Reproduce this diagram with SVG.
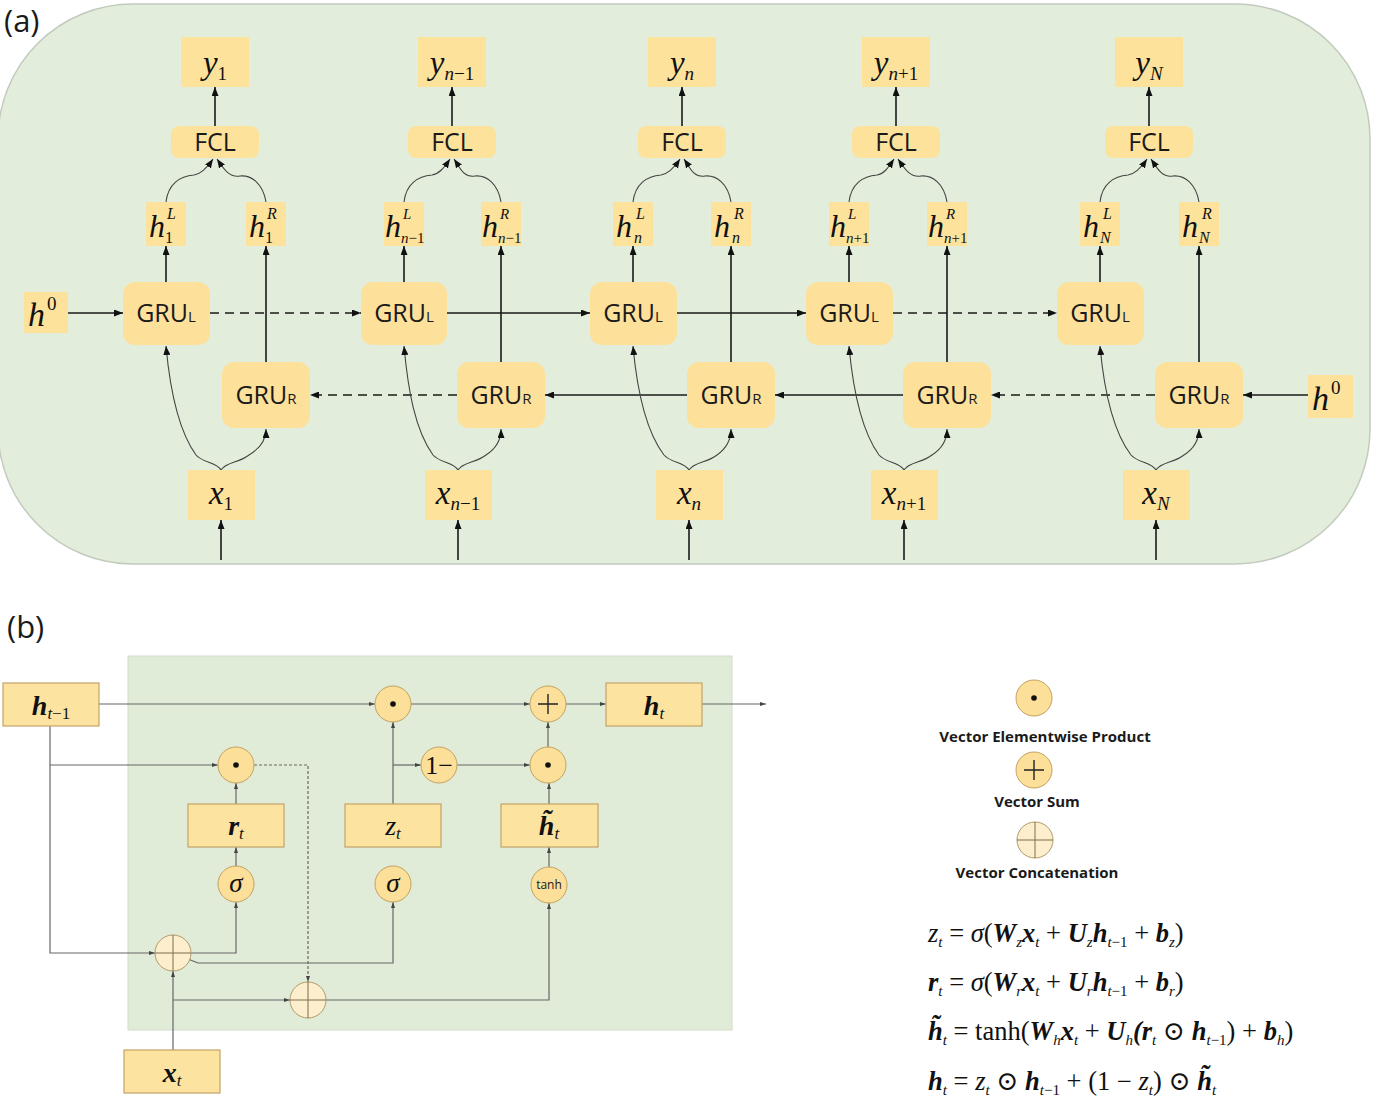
<svg xmlns="http://www.w3.org/2000/svg" width="1385" height="1098" viewBox="0 0 1385 1098">
  <style>
    .bx { fill: #fde29c; }
    .gru { fill: #fde09a; }
    .bb { fill: #fce3a0; stroke: #c3a468; stroke-width: 1.2; }
    .circ { fill: #fcdf98; stroke: #c2a261; stroke-width: 1; }
    .cat { fill: #fdefcd; stroke: #b09a6a; stroke-width: 1; }
    .catx { stroke: #7d6e4d; stroke-width: 1; }
    .ser { font-family: "Liberation Serif", "DejaVu Serif", serif; fill: #111; }
    .it { font-style: italic; }
    .bi { font-style: italic; font-weight: bold; }
    .up { font-style: normal; font-weight: normal; }
    .sans { font-family: "Open Sans", "Liberation Sans", sans-serif; fill: #1a1a1a; }
    .gtx { font-size: 25px; text-anchor: middle; }
    .lg { font-size: 15px; font-weight: bold; text-anchor: middle; }
    .ln { stroke: #1a1a1a; stroke-width: 1.6; fill: none; }
    .dash { stroke-dasharray: 9 6; }
    .cv { stroke: #444; stroke-width: 1.1; fill: none; }
    .wl { stroke: #666; stroke-width: 1.2; fill: none; }
    .eq { font-size: 26.5px; }
    .lb { font-size: 33px; text-anchor: middle; }
  </style>
  <defs>
    <marker id="ah" viewBox="0 0 9 7" refX="9" refY="3.5" markerWidth="9" markerHeight="7" markerUnits="userSpaceOnUse" orient="auto">
      <path d="M0,0 L9,3.5 L0,7 z" fill="#111"/>
    </marker>
    <marker id="as" viewBox="0 0 6 4" refX="6" refY="2" markerWidth="6" markerHeight="4" markerUnits="userSpaceOnUse" orient="auto">
      <path d="M0,0 L6,2 L0,4 z" fill="#444"/>
    </marker>
  </defs>

  <!-- panel (a): bidirectional GRU -->
  <text x="4" y="32" class="sans" font-size="31">(a)</text>
  <rect x="-2" y="4" width="1372" height="560" rx="135" ry="135" fill="#e2eedb" stroke="#c2cabd" stroke-width="1.5"/>

  <g id="connectors-a">
    <!-- forward chain -->
    <path class="ln" d="M68,313 H123" marker-end="url(#ah)"/>
    <path class="ln dash" d="M210,313 H361" marker-end="url(#ah)"/>
    <path class="ln" d="M447,313 H590" marker-end="url(#ah)"/>
    <path class="ln" d="M677,313 H806" marker-end="url(#ah)"/>
    <path class="ln dash" d="M893,313 H1057" marker-end="url(#ah)"/>
    <!-- backward chain -->
    <path class="ln" d="M1308,395 H1243" marker-end="url(#ah)"/>
    <path class="ln dash" d="M1155,395 H991" marker-end="url(#ah)"/>
    <path class="ln" d="M903,395 H775" marker-end="url(#ah)"/>
    <path class="ln" d="M687,395 H545" marker-end="url(#ah)"/>
    <path class="ln dash" d="M457,395 H310" marker-end="url(#ah)"/>

    <!-- column 1 -->
    <path class="ln" d="M221,560 V520" marker-end="url(#ah)"/>
    <path class="ln" d="M166,282 V246" marker-end="url(#ah)"/>
    <path class="ln" d="M266,362 V246" marker-end="url(#ah)"/>
    <path class="ln" d="M215,126 V87" marker-end="url(#ah)"/>
    <path class="cv" d="M221,470 C216,462 203,463 196,455 C178,430 170,390 166,346" marker-end="url(#ah)"/>
    <path class="cv" d="M221,470 C226,462 239,463 249,455 C261,448 266,440 266,429" marker-end="url(#ah)"/>
    <path class="cv" d="M166,202 C168,184 180,176 194,175 C201,174 207,168 213,159" marker-end="url(#ah)"/>
    <path class="cv" d="M266,202 C263,184 252,175 240,176 C229,178 223,168 217,159" marker-end="url(#ah)"/>

    <!-- column 2 -->
    <path class="ln" d="M458,560 V520" marker-end="url(#ah)"/>
    <path class="ln" d="M404,282 V246" marker-end="url(#ah)"/>
    <path class="ln" d="M501,362 V246" marker-end="url(#ah)"/>
    <path class="ln" d="M452,126 V87" marker-end="url(#ah)"/>
    <path class="cv" d="M458,470 C453,462 440,463 433,455 C415,430 408,390 404,346" marker-end="url(#ah)"/>
    <path class="cv" d="M458,470 C463,462 476,463 486,455 C497,448 501,440 501,429" marker-end="url(#ah)"/>
    <path class="cv" d="M404,202 C406,184 418,176 432,175 C439,174 444,168 450,159" marker-end="url(#ah)"/>
    <path class="cv" d="M501,202 C498,184 487,175 475,176 C464,178 460,168 454,159" marker-end="url(#ah)"/>

    <!-- column 3 -->
    <path class="ln" d="M689,560 V520" marker-end="url(#ah)"/>
    <path class="ln" d="M633,282 V246" marker-end="url(#ah)"/>
    <path class="ln" d="M731,362 V246" marker-end="url(#ah)"/>
    <path class="ln" d="M682,126 V87" marker-end="url(#ah)"/>
    <path class="cv" d="M689,470 C684,462 671,463 664,455 C645,430 637,390 633,346" marker-end="url(#ah)"/>
    <path class="cv" d="M689,470 C694,462 707,463 717,455 C727,448 731,440 731,429" marker-end="url(#ah)"/>
    <path class="cv" d="M633,202 C635,184 647,176 661,175 C668,174 674,168 680,159" marker-end="url(#ah)"/>
    <path class="cv" d="M731,202 C728,184 717,175 705,176 C694,178 690,168 684,159" marker-end="url(#ah)"/>

    <!-- column 4 -->
    <path class="ln" d="M904,560 V520" marker-end="url(#ah)"/>
    <path class="ln" d="M849,282 V246" marker-end="url(#ah)"/>
    <path class="ln" d="M947,362 V246" marker-end="url(#ah)"/>
    <path class="ln" d="M896,126 V87" marker-end="url(#ah)"/>
    <path class="cv" d="M904,470 C899,462 886,463 879,455 C861,430 853,390 849,346" marker-end="url(#ah)"/>
    <path class="cv" d="M904,470 C909,462 922,463 932,455 C943,448 947,440 947,429" marker-end="url(#ah)"/>
    <path class="cv" d="M849,202 C851,184 863,176 877,175 C884,174 888,168 894,159" marker-end="url(#ah)"/>
    <path class="cv" d="M947,202 C944,184 933,175 921,176 C910,178 904,168 898,159" marker-end="url(#ah)"/>

    <!-- column N -->
    <path class="ln" d="M1156,560 V520" marker-end="url(#ah)"/>
    <path class="ln" d="M1100,282 V246" marker-end="url(#ah)"/>
    <path class="ln" d="M1199,362 V246" marker-end="url(#ah)"/>
    <path class="ln" d="M1149,126 V87" marker-end="url(#ah)"/>
    <path class="cv" d="M1156,470 C1151,462 1138,463 1131,455 C1112,430 1104,390 1100,346" marker-end="url(#ah)"/>
    <path class="cv" d="M1156,470 C1161,462 1174,463 1184,455 C1195,448 1199,440 1199,429" marker-end="url(#ah)"/>
    <path class="cv" d="M1100,202 C1102,184 1114,176 1128,175 C1135,174 1141,168 1147,159" marker-end="url(#ah)"/>
    <path class="cv" d="M1199,202 C1196,184 1185,175 1173,176 C1162,178 1157,168 1151,159" marker-end="url(#ah)"/>
  </g>

  <!-- initial states -->
  <g id="h0-left">
    <rect class="bx" x="24" y="292" width="44" height="41"/>
    <text class="ser it" x="28" y="326" font-size="34">h</text>
    <text class="ser" x="47" y="310" font-size="19">0</text>
  </g>
  <g id="h0-right">
    <rect class="bx" x="1308" y="375" width="45" height="43"/>
    <text class="ser it" x="1312" y="410" font-size="34">h</text>
    <text class="ser" x="1331" y="394" font-size="19">0</text>
  </g>

  <!-- column 1 nodes -->
  <g id="y1"><rect class="bx" x="181" y="37" width="68" height="50"/>
    <text class="ser it lb" x="215" y="74">y<tspan class="up" font-size="19" dy="6">1</tspan></text></g>
  <g id="fcl1"><rect class="bx" x="171" y="126" width="88" height="32" rx="8"/>
    <text class="sans gtx" x="215" y="151">FCL</text></g>
  <g id="hL1"><rect class="bx" x="146" y="202" width="40" height="44"/>
    <text class="ser it" x="149" y="237" font-size="32">h</text>
    <text class="ser it" x="167" y="219" font-size="16">L</text>
    <text class="ser" x="165" y="243" font-size="16">1</text></g>
  <g id="hR1"><rect class="bx" x="246" y="202" width="40" height="44"/>
    <text class="ser it" x="249" y="237" font-size="32">h</text>
    <text class="ser it" x="267" y="219" font-size="16">R</text>
    <text class="ser" x="265" y="243" font-size="16">1</text></g>
  <g id="gruL1"><rect class="gru" x="123" y="282" width="87" height="63" rx="12"/>
    <text class="sans gtx" x="166" y="322">GRU<tspan font-size="15">L</tspan></text></g>
  <g id="gruR1"><rect class="gru" x="222" y="362" width="88" height="66" rx="12"/>
    <text class="sans gtx" x="266" y="404">GRU<tspan font-size="15">R</tspan></text></g>
  <g id="x1"><rect class="bx" x="188" y="470" width="67" height="50"/>
    <text class="ser it lb" x="221" y="504">x<tspan class="up" font-size="19" dy="6">1</tspan></text></g>

  <!-- column n-1 nodes -->
  <g id="yn-1"><rect class="bx" x="418" y="37" width="68" height="50"/>
    <text class="ser it lb" x="452" y="74">y<tspan font-size="19" dy="6">n</tspan><tspan class="up" font-size="19">−1</tspan></text></g>
  <g id="fcl2"><rect class="bx" x="408" y="126" width="88" height="32" rx="8"/>
    <text class="sans gtx" x="452" y="151">FCL</text></g>
  <g id="hLn-1"><rect class="bx" x="384" y="202" width="40" height="44"/>
    <text class="ser it" x="385" y="237" font-size="32">h</text>
    <text class="ser it" x="403" y="219" font-size="15">L</text>
    <text class="ser it" x="401" y="243" font-size="15">n<tspan class="up">−1</tspan></text></g>
  <g id="hRn-1"><rect class="bx" x="481" y="202" width="40" height="44"/>
    <text class="ser it" x="482" y="237" font-size="32">h</text>
    <text class="ser it" x="500" y="219" font-size="15">R</text>
    <text class="ser it" x="498" y="243" font-size="15">n<tspan class="up">−1</tspan></text></g>
  <g id="gruL2"><rect class="gru" x="361" y="282" width="86" height="63" rx="12"/>
    <text class="sans gtx" x="404" y="322">GRU<tspan font-size="15">L</tspan></text></g>
  <g id="gruR2"><rect class="gru" x="457" y="362" width="88" height="66" rx="12"/>
    <text class="sans gtx" x="501" y="404">GRU<tspan font-size="15">R</tspan></text></g>
  <g id="xn-1"><rect class="bx" x="425" y="470" width="67" height="50"/>
    <text class="ser it lb" x="458" y="504">x<tspan font-size="19" dy="6">n</tspan><tspan class="up" font-size="19">−1</tspan></text></g>

  <!-- column n nodes -->
  <g id="yn"><rect class="bx" x="648" y="37" width="68" height="50"/>
    <text class="ser it lb" x="682" y="74">y<tspan font-size="19" dy="6">n</tspan></text></g>
  <g id="fcl3"><rect class="bx" x="638" y="126" width="88" height="32" rx="8"/>
    <text class="sans gtx" x="682" y="151">FCL</text></g>
  <g id="hLn"><rect class="bx" x="613" y="202" width="40" height="44"/>
    <text class="ser it" x="616" y="237" font-size="32">h</text>
    <text class="ser it" x="636" y="219" font-size="16">L</text>
    <text class="ser it" x="634" y="243" font-size="16">n</text></g>
  <g id="hRn"><rect class="bx" x="711" y="202" width="40" height="44"/>
    <text class="ser it" x="714" y="237" font-size="32">h</text>
    <text class="ser it" x="734" y="219" font-size="16">R</text>
    <text class="ser it" x="732" y="243" font-size="16">n</text></g>
  <g id="gruL3"><rect class="gru" x="590" y="282" width="87" height="63" rx="12"/>
    <text class="sans gtx" x="633" y="322">GRU<tspan font-size="15">L</tspan></text></g>
  <g id="gruR3"><rect class="gru" x="687" y="362" width="88" height="66" rx="12"/>
    <text class="sans gtx" x="731" y="404">GRU<tspan font-size="15">R</tspan></text></g>
  <g id="xn"><rect class="bx" x="656" y="470" width="67" height="50"/>
    <text class="ser it lb" x="689" y="504">x<tspan font-size="19" dy="6">n</tspan></text></g>

  <!-- column n+1 nodes -->
  <g id="yn+1"><rect class="bx" x="862" y="37" width="68" height="50"/>
    <text class="ser it lb" x="896" y="74">y<tspan font-size="19" dy="6">n</tspan><tspan class="up" font-size="19">+1</tspan></text></g>
  <g id="fcl4"><rect class="bx" x="852" y="126" width="88" height="32" rx="8"/>
    <text class="sans gtx" x="896" y="151">FCL</text></g>
  <g id="hLn+1"><rect class="bx" x="829" y="202" width="40" height="44"/>
    <text class="ser it" x="830" y="237" font-size="32">h</text>
    <text class="ser it" x="848" y="219" font-size="15">L</text>
    <text class="ser it" x="846" y="243" font-size="15">n<tspan class="up">+1</tspan></text></g>
  <g id="hRn+1"><rect class="bx" x="927" y="202" width="40" height="44"/>
    <text class="ser it" x="928" y="237" font-size="32">h</text>
    <text class="ser it" x="946" y="219" font-size="15">R</text>
    <text class="ser it" x="944" y="243" font-size="15">n<tspan class="up">+1</tspan></text></g>
  <g id="gruL4"><rect class="gru" x="806" y="282" width="87" height="63" rx="12"/>
    <text class="sans gtx" x="849" y="322">GRU<tspan font-size="15">L</tspan></text></g>
  <g id="gruR4"><rect class="gru" x="903" y="362" width="88" height="66" rx="12"/>
    <text class="sans gtx" x="947" y="404">GRU<tspan font-size="15">R</tspan></text></g>
  <g id="xn+1"><rect class="bx" x="871" y="470" width="67" height="50"/>
    <text class="ser it lb" x="904" y="504">x<tspan font-size="19" dy="6">n</tspan><tspan class="up" font-size="19">+1</tspan></text></g>

  <!-- column N nodes -->
  <g id="yN"><rect class="bx" x="1115" y="37" width="68" height="50"/>
    <text class="ser it lb" x="1149" y="74">y<tspan font-size="19" dy="6">N</tspan></text></g>
  <g id="fcl5"><rect class="bx" x="1105" y="126" width="88" height="32" rx="8"/>
    <text class="sans gtx" x="1149" y="151">FCL</text></g>
  <g id="hLN"><rect class="bx" x="1080" y="202" width="40" height="44"/>
    <text class="ser it" x="1083" y="237" font-size="32">h</text>
    <text class="ser it" x="1103" y="219" font-size="16">L</text>
    <text class="ser it" x="1100" y="243" font-size="16">N</text></g>
  <g id="hRN"><rect class="bx" x="1179" y="202" width="40" height="44"/>
    <text class="ser it" x="1182" y="237" font-size="32">h</text>
    <text class="ser it" x="1202" y="219" font-size="16">R</text>
    <text class="ser it" x="1199" y="243" font-size="16">N</text></g>
  <g id="gruL5"><rect class="gru" x="1057" y="282" width="87" height="63" rx="12"/>
    <text class="sans gtx" x="1100" y="322">GRU<tspan font-size="15">L</tspan></text></g>
  <g id="gruR5"><rect class="gru" x="1155" y="362" width="88" height="66" rx="12"/>
    <text class="sans gtx" x="1199" y="404">GRU<tspan font-size="15">R</tspan></text></g>
  <g id="xN"><rect class="bx" x="1123" y="470" width="67" height="50"/>
    <text class="ser it lb" x="1156" y="504">x<tspan font-size="19" dy="6">N</tspan></text></g>

  <!-- panel (b): GRU cell -->
  <text x="7" y="638" class="sans" font-size="31">(b)</text>
  <rect x="128" y="656" width="604" height="374" fill="#e1ecd8" stroke="#d2dccb" stroke-width="1"/>

  <g id="connectors-b">
    <path class="wl" d="M99,704 H375" marker-end="url(#as)"/>
    <path class="wl" d="M411,704 H530" marker-end="url(#as)"/>
    <path class="wl" d="M566,704 H606" marker-end="url(#as)"/>
    <path class="wl" d="M702,704 H766" marker-end="url(#as)"/>
    <path class="wl" d="M50,726 V953 H155" marker-end="url(#as)"/>
    <path class="wl" d="M50,765 H218" marker-end="url(#as)"/>
    <path class="wl" d="M254,765 H308 V982" stroke-dasharray="3 2" marker-end="url(#as)"/>
    <path class="wl" d="M236,804 V783" marker-end="url(#as)"/>
    <path class="wl" d="M236,866 V847" marker-end="url(#as)"/>
    <path class="wl" d="M191,953 H236 V902" marker-end="url(#as)"/>
    <path class="wl" d="M188,959 L198,963 H393 V902" marker-end="url(#as)"/>
    <path class="wl" d="M393,804 V722" marker-end="url(#as)"/>
    <path class="wl" d="M393,765 H421" marker-end="url(#as)"/>
    <path class="wl" d="M457,765 H530" marker-end="url(#as)"/>
    <path class="wl" d="M549,804 V783" marker-end="url(#as)"/>
    <path class="wl" d="M548,747 V722" marker-end="url(#as)"/>
    <path class="wl" d="M549,867 V847" marker-end="url(#as)"/>
    <path class="wl" d="M173,1050 V971" marker-end="url(#as)"/>
    <path class="wl" d="M173,1000 H290" marker-end="url(#as)"/>
    <path class="wl" d="M326,1000 H549 V903" marker-end="url(#as)"/>
  </g>

  <g id="h-prev"><rect class="bb" x="3" y="683" width="96" height="43"/>
    <text class="ser bi" x="51" y="715" font-size="28" text-anchor="middle">h<tspan class="up" font-size="17" dy="4"><tspan class="it">t</tspan>−1</tspan></text></g>
  <g id="h-out"><rect class="bb" x="606" y="683" width="96" height="43"/>
    <text class="ser bi" x="654" y="715" font-size="28" text-anchor="middle">h<tspan class="it" font-weight="normal" font-size="17" dy="4">t</tspan></text></g>
  <g id="mul-top"><circle class="circ" cx="393" cy="704" r="18"/><circle cx="393" cy="704" r="2.8" fill="#111"/></g>
  <g id="sum-top"><circle class="circ" cx="548" cy="704" r="18"/>
    <path d="M538,704 H558 M548,694 V714" stroke="#222" stroke-width="1.4"/></g>
  <g id="mul-r"><circle class="circ" cx="236" cy="765" r="18"/><circle cx="236" cy="765" r="2.8" fill="#111"/></g>
  <g id="one-minus"><circle class="circ" cx="439" cy="765" r="18"/>
    <text class="ser" x="439" y="774" font-size="26" text-anchor="middle">1−</text></g>
  <g id="mul-h"><circle class="circ" cx="548" cy="765" r="18"/><circle cx="548" cy="765" r="2.8" fill="#111"/></g>
  <g id="r-gate"><rect class="bb" x="188" y="804" width="96" height="43"/>
    <text class="ser bi" x="236" y="835" font-size="28" text-anchor="middle">r<tspan class="it" font-weight="normal" font-size="17" dy="4">t</tspan></text></g>
  <g id="z-gate"><rect class="bb" x="345" y="804" width="96" height="43"/>
    <text class="ser it" x="393" y="835" font-size="28" text-anchor="middle">z<tspan font-size="17" dy="4">t</tspan></text></g>
  <g id="h-cand"><rect class="bb" x="501" y="804" width="97" height="43"/>
    <text class="ser bi" x="549" y="835" font-size="28" text-anchor="middle">h̃<tspan font-weight="normal" font-size="17" dy="4">t</tspan></text></g>
  <g id="sig-r"><circle class="circ" cx="236" cy="884" r="18"/>
    <text class="ser it" x="236" y="892" font-size="27" text-anchor="middle">σ</text></g>
  <g id="sig-z"><circle class="circ" cx="393" cy="884" r="18"/>
    <text class="ser it" x="393" y="892" font-size="27" text-anchor="middle">σ</text></g>
  <g id="tanh"><circle class="circ" cx="549" cy="885" r="18"/>
    <text class="sans" x="549" y="889" font-size="12" text-anchor="middle">tanh</text></g>
  <g id="cat1"><circle class="cat" cx="173" cy="953" r="18"/>
    <path class="catx" d="M155,953 H191 M173,935 V971"/></g>
  <g id="cat2"><circle class="cat" cx="308" cy="1000" r="18"/>
    <path class="catx" d="M290,1000 H326 M308,982 V1018"/></g>
  <g id="x-in"><rect class="bb" x="124" y="1050" width="96" height="43"/>
    <text class="ser bi" x="172" y="1082" font-size="28" text-anchor="middle">x<tspan font-weight="normal" font-size="17" dy="4">t</tspan></text></g>

  <!-- legend -->
  <g id="legend-mul"><circle class="circ" cx="1034" cy="698" r="18"/><circle cx="1034" cy="698" r="2.8" fill="#111"/>
    <text class="sans lg" x="1045" y="742">Vector Elementwise Product</text></g>
  <g id="legend-sum"><circle class="circ" cx="1034" cy="770" r="18"/>
    <path d="M1024,770 H1044 M1034,760 V780" stroke="#222" stroke-width="1.4"/>
    <text class="sans lg" x="1037" y="807">Vector Sum</text></g>
  <g id="legend-cat"><circle class="cat" cx="1035" cy="840" r="18"/>
    <path class="catx" d="M1017,840 H1053 M1035,822 V858"/>
    <text class="sans lg" x="1037" y="878">Vector Concatenation</text></g>

  <!-- update equations -->
  <g id="equations" class="ser eq">
    <text x="928" y="942"><tspan class="it">z</tspan><tspan class="it" font-size="15" dy="5">t</tspan><tspan dy="-5"> = </tspan><tspan class="it">σ</tspan>(<tspan class="bi">W</tspan><tspan class="it" font-size="15" dy="5">z</tspan><tspan class="bi" dy="-5">x</tspan><tspan class="it" font-size="15" dy="5">t</tspan><tspan dy="-5"> + </tspan><tspan class="bi">U</tspan><tspan class="it" font-size="15" dy="5">z</tspan><tspan class="bi" dy="-5">h</tspan><tspan class="it" font-size="15" dy="5">t</tspan><tspan font-size="15">−1</tspan><tspan dy="-5"> + </tspan><tspan class="bi">b</tspan><tspan class="it" font-size="15" dy="5">z</tspan><tspan dy="-5">)</tspan></text>
    <text x="928" y="991"><tspan class="bi">r</tspan><tspan class="it" font-size="15" dy="5">t</tspan><tspan dy="-5"> = </tspan><tspan class="it">σ</tspan>(<tspan class="bi">W</tspan><tspan class="it" font-size="15" dy="5">r</tspan><tspan class="bi" dy="-5">x</tspan><tspan class="it" font-size="15" dy="5">t</tspan><tspan dy="-5"> + </tspan><tspan class="bi">U</tspan><tspan class="it" font-size="15" dy="5">r</tspan><tspan class="bi" dy="-5">h</tspan><tspan class="it" font-size="15" dy="5">t</tspan><tspan font-size="15">−1</tspan><tspan dy="-5"> + </tspan><tspan class="bi">b</tspan><tspan class="it" font-size="15" dy="5">r</tspan><tspan dy="-5">)</tspan></text>
    <text x="928" y="1040"><tspan class="bi">h̃</tspan><tspan class="it" font-size="15" dy="5">t</tspan><tspan dy="-5"> = tanh(</tspan><tspan class="bi">W</tspan><tspan class="it" font-size="15" dy="5">h</tspan><tspan class="bi" dy="-5">x</tspan><tspan class="it" font-size="15" dy="5">t</tspan><tspan dy="-5"> + </tspan><tspan class="bi">U</tspan><tspan class="it" font-size="15" dy="5">h</tspan><tspan class="bi" dy="-5">(r</tspan><tspan class="it" font-size="15" dy="5">t</tspan><tspan dy="-5"> ⊙ </tspan><tspan class="bi">h</tspan><tspan class="it" font-size="15" dy="5">t</tspan><tspan font-size="15">−1</tspan><tspan dy="-5">) + </tspan><tspan class="bi">b</tspan><tspan class="it" font-size="15" dy="5">h</tspan><tspan dy="-5">)</tspan></text>
    <text x="928" y="1090"><tspan class="bi">h</tspan><tspan class="it" font-size="15" dy="5">t</tspan><tspan dy="-5"> = </tspan><tspan class="it">z</tspan><tspan class="it" font-size="15" dy="5">t</tspan><tspan dy="-5"> ⊙ </tspan><tspan class="bi">h</tspan><tspan class="it" font-size="15" dy="5">t</tspan><tspan font-size="15">−1</tspan><tspan dy="-5"> + (1 − </tspan><tspan class="it">z</tspan><tspan class="it" font-size="15" dy="5">t</tspan><tspan dy="-5">) ⊙ </tspan><tspan class="bi">h̃</tspan><tspan class="it" font-size="15" dy="5">t</tspan></text>
  </g>
</svg>
